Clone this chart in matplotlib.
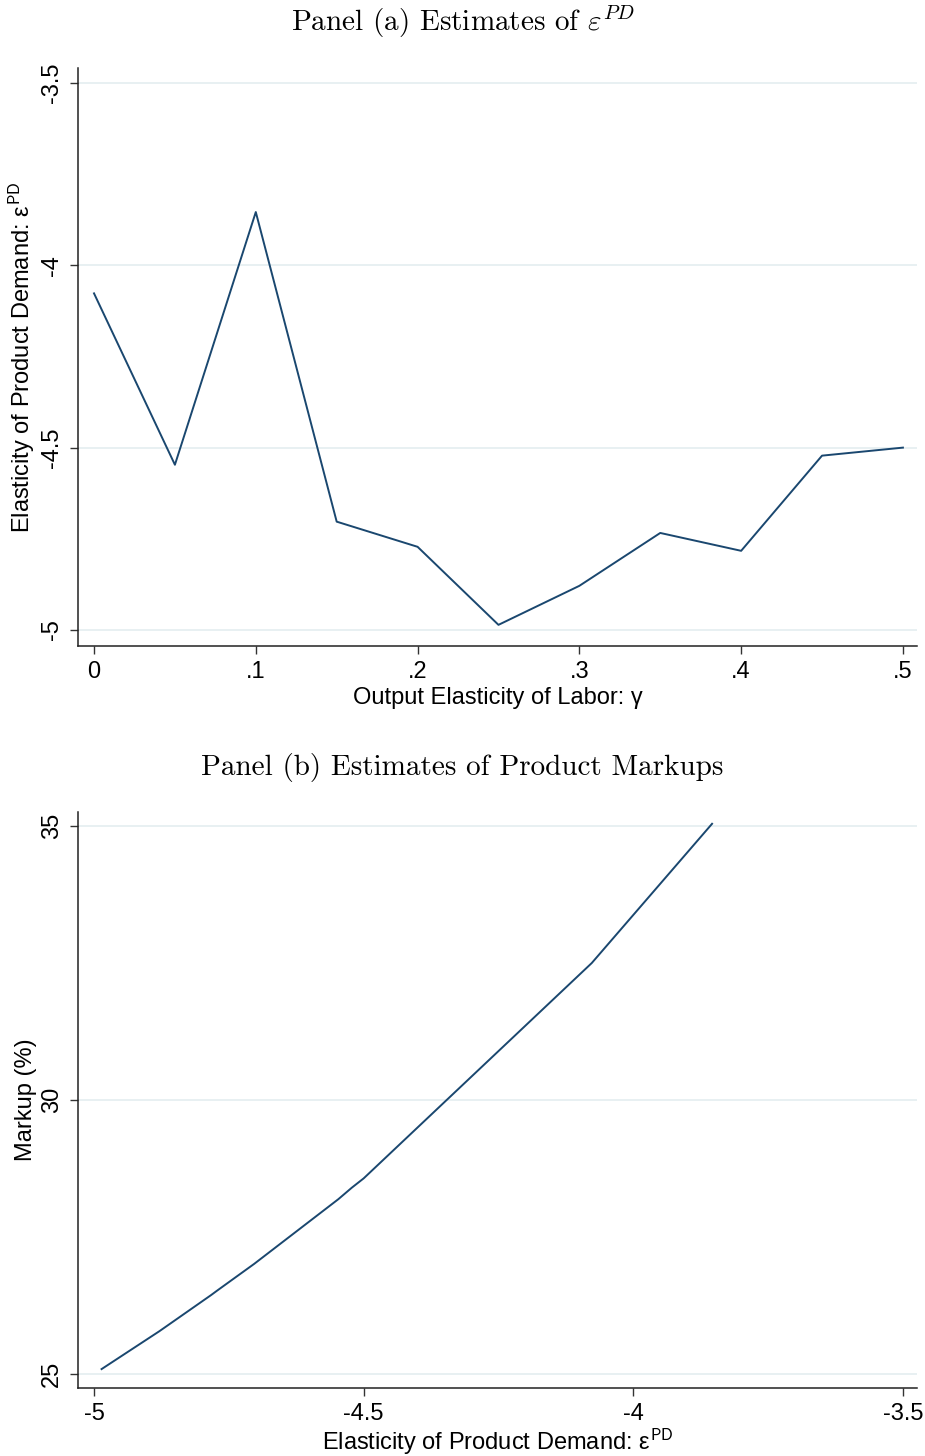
import numpy as np
import matplotlib
matplotlib.use("Agg")
import matplotlib.pyplot as plt

# panel (a): estimated elasticity by output elasticity of labor
gamma = [0, .05, .10, .15, .20, .25, .30, .35, .40, .45, .50]
elast = [-4.077, -4.547, -3.854, -4.703, -4.772, -4.986, -4.879, -4.734, -4.783, -4.522, -4.500]

# panel (b): markups implied by the estimates
elast_b = [-4.986, -4.879, -4.783, -4.772, -4.734, -4.703, -4.547, -4.522, -4.500, -4.077, -3.854]
markup = [25.09, 25.78, 26.44, 26.52, 26.79, 27.01, 28.19, 28.40, 28.57, 32.50, 35.04]

xticks_a = [0, .1, .2, .3, .4, .5]
xlabels_a = ["0", ".1", ".2", ".3", ".4", ".5"]
yticks_a = [-5, -4.5, -4, -3.5]
ylabels_a = ["-5", "-4.5", "-4", "-3.5"]
xticks_b = [-5, -4.5, -4, -3.5]
xlabels_b = ["-5", "-4.5", "-4", "-3.5"]
yticks_b = [25, 30, 35]
ylabels_b = ["25", "30", "35"]

plt.rcParams['font.family'] = ['Liberation Sans', 'DejaVu Sans']
plt.rcParams['mathtext.fontset'] = 'cm'
plt.rcParams['axes.unicode_minus'] = False

navy = '#1a476f'
gridc = '#e6eff1'
fsize = 17

fig = plt.figure(figsize=(9.25, 14.56), dpi=100)


def style_ax(ax):
    for s in ['top', 'right']:
        ax.spines[s].set_visible(False)
    for s in ['left', 'bottom']:
        ax.spines[s].set_linewidth(1.1)
        ax.spines[s].set_color('#222222')
    ax.tick_params(direction='out', length=6, width=1, color='#333333',
                   labelsize=fsize, pad=5)
    ax.tick_params(axis='y', labelrotation=90)
    for lbl in ax.get_yticklabels():
        lbl.set_va('center')
    ax.grid(axis='y', color=gridc, lw=1.3)
    ax.set_axisbelow(True)


ax1 = fig.add_axes([78/925, 1-646/1456, 839/925, 578/1456])
ax1.plot(gamma, elast, color=navy, lw=1.4)
ax1.set_xlim(-0.0099, 0.5087)
ax1.set_ylim(-5.044, -3.459)
ax1.set_xticks(xticks_a)
ax1.set_xticklabels(xlabels_a)
ax1.set_yticks(yticks_a)
ax1.set_yticklabels(ylabels_a)
style_ax(ax1)
ax1.set_xlabel("Output Elasticity of Labor: γ", fontsize=fsize, labelpad=3)
ax1.set_ylabel(r"Elasticity of Product Demand: ε$^{\mathsf{PD}}$", fontsize=fsize, labelpad=3)

ax2 = fig.add_axes([78/925, 1-1388/1456, 839/925, 576/1456])
ax2.plot(elast_b, markup, color=navy, lw=1.4)
ax2.set_xlim(-5.0297, -3.474)
ax2.set_ylim(24.745, 35.255)
ax2.set_xticks(xticks_b)
ax2.set_xticklabels(xlabels_b)
ax2.set_yticks(yticks_b)
ax2.set_yticklabels(ylabels_b)
style_ax(ax2)
ax2.set_xlabel(r"Elasticity of Product Demand: ε$^{\mathsf{PD}}$", fontsize=fsize, labelpad=1)
ax2.set_ylabel("Markup (%)", fontsize=fsize, labelpad=3)

fig.text(0.5, 1-22/1456, r"Panel (a) Estimates of $\varepsilon^{PD}$", ha='center', va='center',
         family='cmr10', fontsize=21)
fig.text(0.5, 1-768/1456, "Panel (b) Estimates of Product Markups", ha='center', va='center',
         family='cmr10', fontsize=21)

fig.savefig("out.png", dpi=100)
